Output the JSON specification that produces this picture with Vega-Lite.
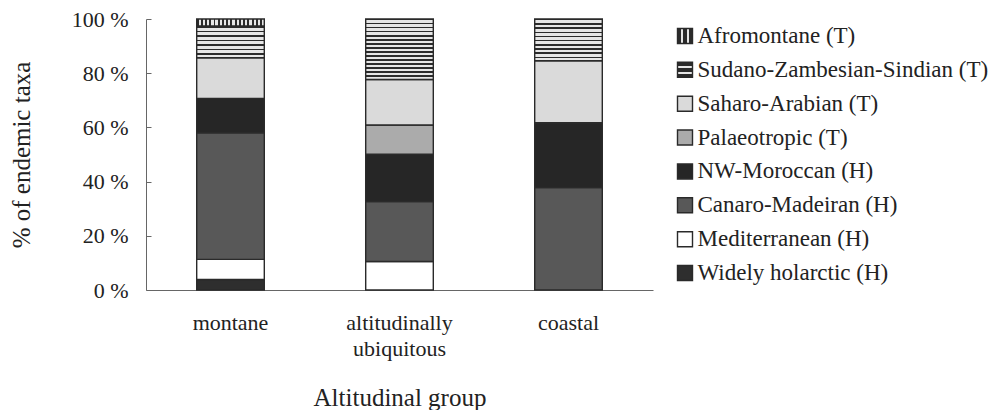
{
  "$schema": "https://vega.github.io/schema/vega-lite/v6.json",
  "autosize": {"type": "none"},
  "padding": {"left": 146, "top": 19, "right": 853, "bottom": 391},
  "background": "white",
  "bounds": "flush",
  "spacing": 24,
  "config": {
    "font": "'Liberation Serif', 'Times New Roman', 'DejaVu Serif', serif",
    "axis": {"labelFont": "'Liberation Serif', 'Times New Roman', 'DejaVu Serif', serif", "titleFont": "'Liberation Serif', 'Times New Roman', 'DejaVu Serif', serif"},
    "text": {"font": "'Liberation Serif', 'Times New Roman', 'DejaVu Serif', serif"},
    "view": {"stroke": null}
  },
  "data": {
    "values": [
      {"group": "montane", "region": "Widely holarctic (H)", "rank": 1, "pct": 3.9},
      {"group": "montane", "region": "Mediterranean (H)", "rank": 2, "pct": 7.4},
      {"group": "montane", "region": "Canaro-Madeiran (H)", "rank": 3, "pct": 46.7},
      {"group": "montane", "region": "NW-Moroccan (H)", "rank": 4, "pct": 12.7},
      {"group": "montane", "region": "Saharo-Arabian (T)", "rank": 6, "pct": 15.0},
      {"group": "montane", "region": "Sudano-Zambesian-Sindian (T)", "rank": 7, "pct": 11.7},
      {"group": "montane", "region": "Afromontane (T)", "rank": 8, "pct": 2.6},
      {"group": "altitudinally ubiquitous", "region": "Mediterranean (H)", "rank": 2, "pct": 10.5},
      {"group": "altitudinally ubiquitous", "region": "Canaro-Madeiran (H)", "rank": 3, "pct": 22.1},
      {"group": "altitudinally ubiquitous", "region": "NW-Moroccan (H)", "rank": 4, "pct": 17.5},
      {"group": "altitudinally ubiquitous", "region": "Palaeotropic (T)", "rank": 5, "pct": 10.8},
      {"group": "altitudinally ubiquitous", "region": "Saharo-Arabian (T)", "rank": 6, "pct": 16.8},
      {"group": "altitudinally ubiquitous", "region": "Sudano-Zambesian-Sindian (T)", "rank": 7, "pct": 22.3},
      {"group": "coastal", "region": "Canaro-Madeiran (H)", "rank": 3, "pct": 37.8},
      {"group": "coastal", "region": "NW-Moroccan (H)", "rank": 4, "pct": 23.9},
      {"group": "coastal", "region": "Saharo-Arabian (T)", "rank": 6, "pct": 22.9},
      {"group": "coastal", "region": "Sudano-Zambesian-Sindian (T)", "rank": 7, "pct": 15.4}
    ]
  },
  "hconcat": [
    {
      "width": 507,
      "height": 271,
      "mark": {"type": "bar", "stroke": "#2a2a2a", "strokeWidth": 1.4},
      "encoding": {
        "x": {
          "field": "group",
          "type": "nominal",
          "sort": ["montane", "altitudinally ubiquitous", "coastal"],
          "scale": {"paddingInner": 0.6, "paddingOuter": 0.3},
          "axis": {
            "title": "Altitudinal group",
            "titleFont": "'Liberation Serif', 'Times New Roman', 'DejaVu Serif', serif",
            "titleFontSize": 25,
            "titleFontWeight": "normal",
            "titleColor": "#222",
            "titlePadding": 26,
            "labelFont": "'Liberation Serif', 'Times New Roman', 'DejaVu Serif', serif",
            "labelAngle": 0,
            "labelFontSize": 22,
            "labelColor": "#222",
            "labelPadding": 22,
            "labelLineHeight": 26,
            "labelExpr": "datum.value === 'altitudinally ubiquitous' ? ['altitudinally', 'ubiquitous'] : datum.value",
            "ticks": false,
            "domainColor": "#666"
          }
        },
        "y": {
          "field": "pct",
          "type": "quantitative",
          "stack": "zero",
          "scale": {"domain": [0, 100]},
          "axis": {
            "title": "% of endemic taxa",
            "titleFont": "'Liberation Serif', 'Times New Roman', 'DejaVu Serif', serif",
            "titleFontSize": 25,
            "titleFontWeight": "normal",
            "titleColor": "#222",
            "titlePadding": 37,
            "values": [0, 20, 40, 60, 80, 100],
            "labelExpr": "datum.value + ' %'",
            "labelFont": "'Liberation Serif', 'Times New Roman', 'DejaVu Serif', serif",
            "labelFontSize": 22,
            "labelColor": "#222",
            "labelPadding": 23,
            "tickSize": -5,
            "tickColor": "#666",
            "domainColor": "#666",
            "grid": false
          }
        },
        "order": {"field": "rank", "type": "quantitative"},
        "fill": {
          "field": "region",
          "type": "nominal",
          "legend": null,
          "scale": {
            "domain": [
              "Afromontane (T)",
              "Sudano-Zambesian-Sindian (T)",
              "Saharo-Arabian (T)",
              "Palaeotropic (T)",
              "NW-Moroccan (H)",
              "Canaro-Madeiran (H)",
              "Mediterranean (H)",
              "Widely holarctic (H)"
            ],
            "range": ["#2b2b2b", "#5a5a5a", "#dadada", "#ababab", "#262626", "#585858", "#ffffff", "#2e2e2e"]
          },
          "condition": [
            {
              "test": "datum.region === 'Afromontane (T)'",
              "value": {
                "gradient": "linear", "x1": 0, "y1": 0, "x2": 1, "y2": 0,
                "stops": [
                  {"offset": 0, "color": "#2b2b2b"}, {"offset": 0.0281, "color": "#2b2b2b"}, {"offset": 0.0281, "color": "#e6e6e6"}, {"offset": 0.0625, "color": "#e6e6e6"},
                  {"offset": 0.0625, "color": "#2b2b2b"}, {"offset": 0.0906, "color": "#2b2b2b"}, {"offset": 0.0906, "color": "#e6e6e6"}, {"offset": 0.125, "color": "#e6e6e6"},
                  {"offset": 0.125, "color": "#2b2b2b"}, {"offset": 0.1531, "color": "#2b2b2b"}, {"offset": 0.1531, "color": "#e6e6e6"}, {"offset": 0.1875, "color": "#e6e6e6"},
                  {"offset": 0.1875, "color": "#2b2b2b"}, {"offset": 0.2156, "color": "#2b2b2b"}, {"offset": 0.2156, "color": "#e6e6e6"}, {"offset": 0.25, "color": "#e6e6e6"},
                  {"offset": 0.25, "color": "#2b2b2b"}, {"offset": 0.2781, "color": "#2b2b2b"}, {"offset": 0.2781, "color": "#e6e6e6"}, {"offset": 0.3125, "color": "#e6e6e6"},
                  {"offset": 0.3125, "color": "#2b2b2b"}, {"offset": 0.3406, "color": "#2b2b2b"}, {"offset": 0.3406, "color": "#e6e6e6"}, {"offset": 0.375, "color": "#e6e6e6"},
                  {"offset": 0.375, "color": "#2b2b2b"}, {"offset": 0.4031, "color": "#2b2b2b"}, {"offset": 0.4031, "color": "#e6e6e6"}, {"offset": 0.4375, "color": "#e6e6e6"},
                  {"offset": 0.4375, "color": "#2b2b2b"}, {"offset": 0.4656, "color": "#2b2b2b"}, {"offset": 0.4656, "color": "#e6e6e6"}, {"offset": 0.5, "color": "#e6e6e6"},
                  {"offset": 0.5, "color": "#2b2b2b"}, {"offset": 0.5281, "color": "#2b2b2b"}, {"offset": 0.5281, "color": "#e6e6e6"}, {"offset": 0.5625, "color": "#e6e6e6"},
                  {"offset": 0.5625, "color": "#2b2b2b"}, {"offset": 0.5906, "color": "#2b2b2b"}, {"offset": 0.5906, "color": "#e6e6e6"}, {"offset": 0.625, "color": "#e6e6e6"},
                  {"offset": 0.625, "color": "#2b2b2b"}, {"offset": 0.6531, "color": "#2b2b2b"}, {"offset": 0.6531, "color": "#e6e6e6"}, {"offset": 0.6875, "color": "#e6e6e6"},
                  {"offset": 0.6875, "color": "#2b2b2b"}, {"offset": 0.7156, "color": "#2b2b2b"}, {"offset": 0.7156, "color": "#e6e6e6"}, {"offset": 0.75, "color": "#e6e6e6"},
                  {"offset": 0.75, "color": "#2b2b2b"}, {"offset": 0.7781, "color": "#2b2b2b"}, {"offset": 0.7781, "color": "#e6e6e6"}, {"offset": 0.8125, "color": "#e6e6e6"},
                  {"offset": 0.8125, "color": "#2b2b2b"}, {"offset": 0.8406, "color": "#2b2b2b"}, {"offset": 0.8406, "color": "#e6e6e6"}, {"offset": 0.875, "color": "#e6e6e6"},
                  {"offset": 0.875, "color": "#2b2b2b"}, {"offset": 0.9031, "color": "#2b2b2b"}, {"offset": 0.9031, "color": "#e6e6e6"}, {"offset": 0.9375, "color": "#e6e6e6"},
                  {"offset": 0.9375, "color": "#2b2b2b"}, {"offset": 0.9656, "color": "#2b2b2b"}, {"offset": 0.9656, "color": "#e6e6e6"}, {"offset": 1, "color": "#e6e6e6"}
                ]
              }
            },
            {
              "test": "datum.region === 'Sudano-Zambesian-Sindian (T)' && datum.group === 'montane'",
              "value": {
                "gradient": "linear", "x1": 0, "y1": 0, "x2": 0, "y2": 1,
                "stops": [
                  {"offset": 0, "color": "#2b2b2b"}, {"offset": 0.05, "color": "#2b2b2b"}, {"offset": 0.05, "color": "#e6e6e6"}, {"offset": 0.1429, "color": "#e6e6e6"},
                  {"offset": 0.1429, "color": "#2b2b2b"}, {"offset": 0.1929, "color": "#2b2b2b"}, {"offset": 0.1929, "color": "#e6e6e6"}, {"offset": 0.2857, "color": "#e6e6e6"},
                  {"offset": 0.2857, "color": "#2b2b2b"}, {"offset": 0.3357, "color": "#2b2b2b"}, {"offset": 0.3357, "color": "#e6e6e6"}, {"offset": 0.4286, "color": "#e6e6e6"},
                  {"offset": 0.4286, "color": "#2b2b2b"}, {"offset": 0.4786, "color": "#2b2b2b"}, {"offset": 0.4786, "color": "#e6e6e6"}, {"offset": 0.5714, "color": "#e6e6e6"},
                  {"offset": 0.5714, "color": "#2b2b2b"}, {"offset": 0.6214, "color": "#2b2b2b"}, {"offset": 0.6214, "color": "#e6e6e6"}, {"offset": 0.7143, "color": "#e6e6e6"},
                  {"offset": 0.7143, "color": "#2b2b2b"}, {"offset": 0.7643, "color": "#2b2b2b"}, {"offset": 0.7643, "color": "#e6e6e6"}, {"offset": 0.8571, "color": "#e6e6e6"},
                  {"offset": 0.8571, "color": "#2b2b2b"}, {"offset": 0.9071, "color": "#2b2b2b"}, {"offset": 0.9071, "color": "#e6e6e6"}, {"offset": 1, "color": "#e6e6e6"}
                ]
              }
            },
            {
              "test": "datum.region === 'Sudano-Zambesian-Sindian (T)' && datum.group === 'altitudinally ubiquitous'",
              "value": {
                "gradient": "linear", "x1": 0, "y1": 0, "x2": 0, "y2": 1,
                "stops": [
                  {"offset": 0, "color": "#2b2b2b"}, {"offset": 0.0233, "color": "#2b2b2b"}, {"offset": 0.0233, "color": "#e6e6e6"}, {"offset": 0.0667, "color": "#e6e6e6"},
                  {"offset": 0.0667, "color": "#2b2b2b"}, {"offset": 0.09, "color": "#2b2b2b"}, {"offset": 0.09, "color": "#e6e6e6"}, {"offset": 0.1333, "color": "#e6e6e6"},
                  {"offset": 0.1333, "color": "#2b2b2b"}, {"offset": 0.1567, "color": "#2b2b2b"}, {"offset": 0.1567, "color": "#e6e6e6"}, {"offset": 0.2, "color": "#e6e6e6"},
                  {"offset": 0.2, "color": "#2b2b2b"}, {"offset": 0.2233, "color": "#2b2b2b"}, {"offset": 0.2233, "color": "#e6e6e6"}, {"offset": 0.2667, "color": "#e6e6e6"},
                  {"offset": 0.2667, "color": "#2b2b2b"}, {"offset": 0.29, "color": "#2b2b2b"}, {"offset": 0.29, "color": "#e6e6e6"}, {"offset": 0.3333, "color": "#e6e6e6"},
                  {"offset": 0.3333, "color": "#2b2b2b"}, {"offset": 0.3567, "color": "#2b2b2b"}, {"offset": 0.3567, "color": "#e6e6e6"}, {"offset": 0.4, "color": "#e6e6e6"},
                  {"offset": 0.4, "color": "#2b2b2b"}, {"offset": 0.4233, "color": "#2b2b2b"}, {"offset": 0.4233, "color": "#e6e6e6"}, {"offset": 0.4667, "color": "#e6e6e6"},
                  {"offset": 0.4667, "color": "#2b2b2b"}, {"offset": 0.49, "color": "#2b2b2b"}, {"offset": 0.49, "color": "#e6e6e6"}, {"offset": 0.5333, "color": "#e6e6e6"},
                  {"offset": 0.5333, "color": "#2b2b2b"}, {"offset": 0.5567, "color": "#2b2b2b"}, {"offset": 0.5567, "color": "#e6e6e6"}, {"offset": 0.6, "color": "#e6e6e6"},
                  {"offset": 0.6, "color": "#2b2b2b"}, {"offset": 0.6233, "color": "#2b2b2b"}, {"offset": 0.6233, "color": "#e6e6e6"}, {"offset": 0.6667, "color": "#e6e6e6"},
                  {"offset": 0.6667, "color": "#2b2b2b"}, {"offset": 0.69, "color": "#2b2b2b"}, {"offset": 0.69, "color": "#e6e6e6"}, {"offset": 0.7333, "color": "#e6e6e6"},
                  {"offset": 0.7333, "color": "#2b2b2b"}, {"offset": 0.7567, "color": "#2b2b2b"}, {"offset": 0.7567, "color": "#e6e6e6"}, {"offset": 0.8, "color": "#e6e6e6"},
                  {"offset": 0.8, "color": "#2b2b2b"}, {"offset": 0.8233, "color": "#2b2b2b"}, {"offset": 0.8233, "color": "#e6e6e6"}, {"offset": 0.8667, "color": "#e6e6e6"},
                  {"offset": 0.8667, "color": "#2b2b2b"}, {"offset": 0.89, "color": "#2b2b2b"}, {"offset": 0.89, "color": "#e6e6e6"}, {"offset": 0.9333, "color": "#e6e6e6"},
                  {"offset": 0.9333, "color": "#2b2b2b"}, {"offset": 0.9567, "color": "#2b2b2b"}, {"offset": 0.9567, "color": "#e6e6e6"}, {"offset": 1, "color": "#e6e6e6"}
                ]
              }
            },
            {
              "test": "datum.region === 'Sudano-Zambesian-Sindian (T)' && datum.group === 'coastal'",
              "value": {
                "gradient": "linear", "x1": 0, "y1": 0, "x2": 0, "y2": 1,
                "stops": [
                  {"offset": 0, "color": "#2b2b2b"}, {"offset": 0.035, "color": "#2b2b2b"}, {"offset": 0.035, "color": "#e6e6e6"}, {"offset": 0.1, "color": "#e6e6e6"},
                  {"offset": 0.1, "color": "#2b2b2b"}, {"offset": 0.135, "color": "#2b2b2b"}, {"offset": 0.135, "color": "#e6e6e6"}, {"offset": 0.2, "color": "#e6e6e6"},
                  {"offset": 0.2, "color": "#2b2b2b"}, {"offset": 0.235, "color": "#2b2b2b"}, {"offset": 0.235, "color": "#e6e6e6"}, {"offset": 0.3, "color": "#e6e6e6"},
                  {"offset": 0.3, "color": "#2b2b2b"}, {"offset": 0.335, "color": "#2b2b2b"}, {"offset": 0.335, "color": "#e6e6e6"}, {"offset": 0.4, "color": "#e6e6e6"},
                  {"offset": 0.4, "color": "#2b2b2b"}, {"offset": 0.435, "color": "#2b2b2b"}, {"offset": 0.435, "color": "#e6e6e6"}, {"offset": 0.5, "color": "#e6e6e6"},
                  {"offset": 0.5, "color": "#2b2b2b"}, {"offset": 0.535, "color": "#2b2b2b"}, {"offset": 0.535, "color": "#e6e6e6"}, {"offset": 0.6, "color": "#e6e6e6"},
                  {"offset": 0.6, "color": "#2b2b2b"}, {"offset": 0.635, "color": "#2b2b2b"}, {"offset": 0.635, "color": "#e6e6e6"}, {"offset": 0.7, "color": "#e6e6e6"},
                  {"offset": 0.7, "color": "#2b2b2b"}, {"offset": 0.735, "color": "#2b2b2b"}, {"offset": 0.735, "color": "#e6e6e6"}, {"offset": 0.8, "color": "#e6e6e6"},
                  {"offset": 0.8, "color": "#2b2b2b"}, {"offset": 0.835, "color": "#2b2b2b"}, {"offset": 0.835, "color": "#e6e6e6"}, {"offset": 0.9, "color": "#e6e6e6"},
                  {"offset": 0.9, "color": "#2b2b2b"}, {"offset": 0.935, "color": "#2b2b2b"}, {"offset": 0.935, "color": "#e6e6e6"}, {"offset": 1, "color": "#e6e6e6"}
                ]
              }
            }
          ]
        }
      }
    },
    {
      "width": 16,
      "height": 271,
      "transform": [{"aggregate": [{"op": "count", "as": "n"}], "groupby": ["region"]}],
      "encoding": {
        "y": {
          "field": "region",
          "type": "nominal",
          "axis": null,
          "scale": {"padding": 0.5},
          "sort": [
            "Afromontane (T)",
            "Sudano-Zambesian-Sindian (T)",
            "Saharo-Arabian (T)",
            "Palaeotropic (T)",
            "NW-Moroccan (H)",
            "Canaro-Madeiran (H)",
            "Mediterranean (H)",
            "Widely holarctic (H)"
          ]
        }
      },
      "layer": [
        {
          "mark": {"type": "square", "size": 225, "stroke": "#2a2a2a", "strokeWidth": 1.4, "opacity": 1, "filled": true},
          "encoding": {
            "fill": {
              "field": "region",
              "type": "nominal",
              "legend": null,
              "condition": [
                {
                  "test": "datum.region === 'Afromontane (T)'",
                  "value": {
                    "gradient": "linear", "x1": 0, "y1": 0, "x2": 1, "y2": 0,
                    "stops": [
                      {"offset": 0, "color": "#2b2b2b"}, {"offset": 0.25, "color": "#2b2b2b"}, {"offset": 0.25, "color": "#e6e6e6"}, {"offset": 0.38, "color": "#e6e6e6"},
                      {"offset": 0.38, "color": "#2b2b2b"}, {"offset": 0.62, "color": "#2b2b2b"}, {"offset": 0.62, "color": "#e6e6e6"}, {"offset": 0.75, "color": "#e6e6e6"},
                      {"offset": 0.75, "color": "#2b2b2b"}, {"offset": 1, "color": "#2b2b2b"}
                    ]
                  }
                },
                {
                  "test": "datum.region === 'Sudano-Zambesian-Sindian (T)'",
                  "value": {
                    "gradient": "linear", "x1": 0, "y1": 0, "x2": 0, "y2": 1,
                    "stops": [
                      {"offset": 0, "color": "#2b2b2b"}, {"offset": 0.25, "color": "#2b2b2b"}, {"offset": 0.25, "color": "#e6e6e6"}, {"offset": 0.38, "color": "#e6e6e6"},
                      {"offset": 0.38, "color": "#2b2b2b"}, {"offset": 0.62, "color": "#2b2b2b"}, {"offset": 0.62, "color": "#e6e6e6"}, {"offset": 0.75, "color": "#e6e6e6"},
                      {"offset": 0.75, "color": "#2b2b2b"}, {"offset": 1, "color": "#2b2b2b"}
                    ]
                  }
                }
              ]
            }
          }
        },
        {
          "mark": {"type": "text", "align": "left", "baseline": "middle", "dx": 12.5, "font": "'Liberation Serif', 'Times New Roman', 'DejaVu Serif', serif", "fontSize": 23, "color": "#222"},
          "encoding": {"text": {"field": "region", "type": "nominal"}}
        }
      ]
    }
  ]
}
